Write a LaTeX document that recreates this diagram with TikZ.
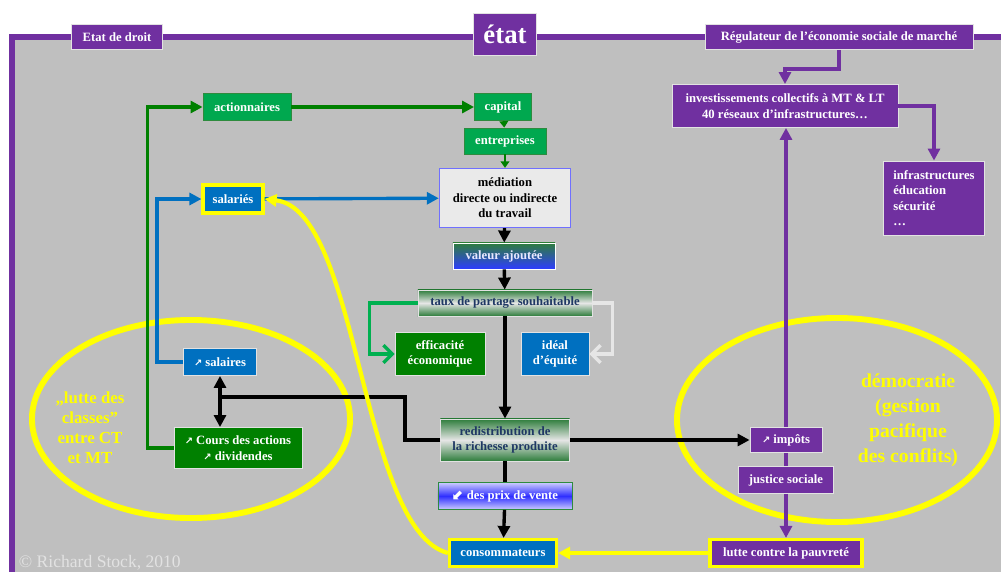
\documentclass[tikz,border=0pt]{standalone}
\usepackage{fontspec}
\setmainfont{Liberation Serif}
\newfontfamily\symfont{DejaVu Sans}
\usetikzlibrary{arrows.meta, positioning, backgrounds}
\definecolor{cpurple}{HTML}{7030A0}
\definecolor{cgray}{HTML}{BFBFBF}
\definecolor{cedge}{HTML}{E2E2E2}
\definecolor{cgreen}{HTML}{00A84F}
\definecolor{cgreenedge}{HTML}{2E8B3E}
\definecolor{cdkgreen}{HTML}{008000}
\definecolor{cbrightgreen}{HTML}{00B050}
\definecolor{cblue}{HTML}{0070C0}
\definecolor{cyellow}{HTML}{FFFF00}
\definecolor{cnavy}{HTML}{1F3864}
\definecolor{cmed}{HTML}{EAEAEA}
\definecolor{cmededge}{HTML}{7070FF}
\definecolor{cshgreen}{HTML}{2E7D3C}
\definecolor{cshblue}{HTML}{2E3CFF}
\definecolor{cshwhite}{HTML}{E6E6E6}
\definecolor{cpaleblue}{HTML}{CCCCFF}
\definecolor{cvivblue}{HTML}{2F2FFF}
\definecolor{cpale}{HTML}{E8E8FF}
\newcommand{\hausse}{{\symfont\fontsize{7}{7}\selectfont ↗}}
\newcommand{\baisse}{{\symfont\fontsize{10}{10}\selectfont ⬋}}
\tikzset{
  every picture/.style={font=\bfseries\fontsize{9}{11}\selectfont},
  box/.style={fill=#1, draw=cedge, line width=0.6pt, text=white, align=center, inner sep=2pt},
  box/.default=cpurple,
  goldbox/.style={box=#1, draw=cyellow, line width=2.2pt},
  goldbox/.default=cpurple,
  shadebox/.style={draw=cedge, line width=0.6pt, text=cnavy, align=center, inner sep=2pt},
  arrow/.style={-{Triangle[length=3mm, width=3mm]}, draw=#1, line width=2.4pt},
  tiny/.style={-{Triangle[length=1.6mm, width=2.2mm]}, draw=#1, line width=0.9pt},
  barb/.style={-{Straight Barb[length=2.2mm, width=4.4mm]}, draw=#1, line width=2.4pt},
  twoway/.style={{Triangle[length=3mm, width=3mm]}-{Triangle[length=3mm, width=3mm]}, draw=black, line width=2.4pt},
  plain/.style={draw=#1, line width=2.4pt},
  ring/.style={draw=cyellow, line width=4.2pt},
  frame/.style={draw=cpurple, line width=4.5pt},
  ringtext/.style={text=cyellow, align=center},
}

\begin{document}
\begin{tikzpicture}[x=0.025cm, y=-0.025cm]
  \useasboundingbox (0,0) rectangle (1001,572);
  % top labels on the frame
  \node[box, minimum width=2.275cm, minimum height=0.625cm] (droit) at (117,37) {Etat de droit};
  \node[box, font=\bfseries\fontsize{19}{22}\selectfont, minimum width=1.575cm, minimum height=1.05cm] (etat) at (505,34) {état};
  \node[box, minimum width=6.7cm, minimum height=0.625cm] (regul) at (839,37) {Régulateur de l’économie sociale de marché};
  % centre column
  \node[box=cgreen, draw=cgreenedge, minimum width=2.2cm, minimum height=0.675cm] (action) at (247,107) {actionnaires};
  \node[box=cgreen, draw=cgreenedge, minimum width=1.425cm, minimum height=0.675cm] (capital) at (503,107) {capital};
  \node[box=cgreen, draw=cgreenedge, minimum width=2.05cm, minimum height=0.65cm] (entr) at (505,141) {entreprises};
  \node[box=cmed, draw=cmededge, line width=1pt, text=black, minimum width=3.275cm, minimum height=1.475cm] (media) at (505,198) {médiation\\directe ou indirecte\\du travail};
  \node[shadebox, draw=white, top color=cshgreen, bottom color=cshblue, text=cpale, minimum width=2.55cm, minimum height=0.65cm] (valeur) at (504,256) {valeur ajoutée};
  \node[shadebox, top color=cshgreen, bottom color=cshgreen, middle color=cshwhite, minimum width=4.35cm, minimum height=0.65cm] (taux) at (505,303) {taux de partage souhaitable};
  \node[box=cdkgreen, minimum width=2.25cm, minimum height=1.075cm] (effic) at (440,354) {efficacité\\économique};
  \node[box=cblue, minimum width=1.7cm, minimum height=1.075cm] (ideal) at (555,354) {idéal\\d’équité};
  \node[shadebox, top color=cshgreen, bottom color=cshgreen, middle color=cshwhite, minimum width=3.225cm, minimum height=1.05cm] (redis) at (505,440) {redistribution de\\la richesse produite};
  \node[shadebox, draw=cgreenedge, top color=cpaleblue, bottom color=cpaleblue, middle color=cvivblue, text=white, minimum width=3.35cm, minimum height=0.675cm] (prix) at (505,496) {\baisse\ des prix de vente};
  \node[goldbox=cblue, minimum width=2.675cm, minimum height=0.675cm] (conso) at (503,553) {consommateurs};
  % left side
  \node[goldbox=cblue, minimum width=1.5cm, minimum height=0.7cm] (salaries) at (233,199) {salariés};
  \node[box=cblue, minimum width=1.825cm, minimum height=0.675cm] (salaires) at (220,362) {\hausse\ salaires};
  \node[box=cdkgreen, minimum width=3.2cm, minimum height=1.025cm] (cours) at (238,448) {\hausse\ Cours des actions\\\hausse\ dividendes};
  \coordinate (fork) at (220,397);
  % right side
  \node[box, minimum width=5.65cm, minimum height=1.075cm] (invest) at (785,106) {investissements collectifs à MT \& LT\\40 réseaux d’infrastructures…};
  \node[box, align=left, minimum width=2.525cm, minimum height=1.85cm] (infra) at (934,198) {infrastructures\\éducation\\sécurité\\…};
  \node[box, minimum width=1.8cm, minimum height=0.625cm] (impots) at (786,440) {\hausse\ impôts};
  \node[box, minimum width=2.375cm, minimum height=0.675cm] (justice) at (786,480) {justice sociale};
  \node[goldbox, minimum width=3.8cm, minimum height=0.675cm] (lutte) at (786,553) {lutte contre la pauvreté};
  % ellipse texts
  \node[ringtext, font=\bfseries\fontsize{12}{14.2}\selectfont] (classes) at (90,428) {„lutte des\\classes”\\entre CT\\et MT};
  \node[ringtext, font=\bfseries\fontsize{14}{17.8}\selectfont] (demo) at (908,420) {démocratie\\(gestion\\pacifique\\des conflits)};
  \node[anchor=base west, text=cedge, font=\fontsize{12.5}{14}\selectfont] (copy) at (14,567) {© Richard Stock, 2010};

  \begin{scope}[on background layer]
    \fill[cgray] (12,37) rectangle (1001,572);
    \draw[frame] (1001,37) -- (12,37) -- (12,572);
    \draw[ring] (191,419) ellipse [x radius=3.975cm, y radius=2.475cm];
    \draw[ring] (837,420) ellipse [x radius=4cm, y radius=2.55cm];
  \end{scope}

  % connectors
  \draw[arrow=cdkgreen] (cours.west) -- ++(-26,0) |- (action.west);
  \draw[arrow=cdkgreen] (action) -- (capital);
  \draw[tiny=cdkgreen] (capital) -- (entr);
  \draw[tiny=cdkgreen] (entr) -- (media);
  \draw[arrow=cblue] (salaires.west) -- ++(-26,0) |- (salaries.west);
  \draw[arrow=cblue] (salaries) -- (media);
  \draw[arrow=black] (media) -- (valeur);
  \draw[arrow=black] (valeur) -- (taux);
  \draw[arrow=black] (taux) -- (redis);
  \draw[barb=cbrightgreen] (taux.west) -- ++(-48,0) |- (effic.west);
  \draw[barb=cshwhite] (taux.east) -- ++(20,0) |- (ideal.east);
  \draw[plain=black] (redis) -- (prix);
  \draw[arrow=black] (prix) -- (conso);
  \draw[plain=black] (redis.west) -- ++(-35,0) |- (fork);
  \draw[twoway] (salaires.south) -- (salaires.south |- cours.north);
  \draw[arrow=black] (redis) -- (impots);
  \draw[arrow=cpurple, line width=2.8pt] (impots) -- (impots |- invest.south);
  \draw[plain=cpurple, line width=2.8pt] (impots) -- (justice);
  \draw[arrow=cpurple, line width=2.8pt] (justice) -- (lutte);
  \draw[arrow=cpurple, line width=2.8pt] (regul.south) -- ++(0,19) -| (invest.north);
  \draw[arrow=cpurple, line width=2.8pt] (invest.east) -| (infra.north);
  \draw[arrow=cyellow, line width=3pt] (lutte) -- (conso);
  \draw[arrow=cyellow, line width=3pt] (conso.west) .. controls (360,530) and (360,210) .. (salaries.east);
\end{tikzpicture}
\end{document}
